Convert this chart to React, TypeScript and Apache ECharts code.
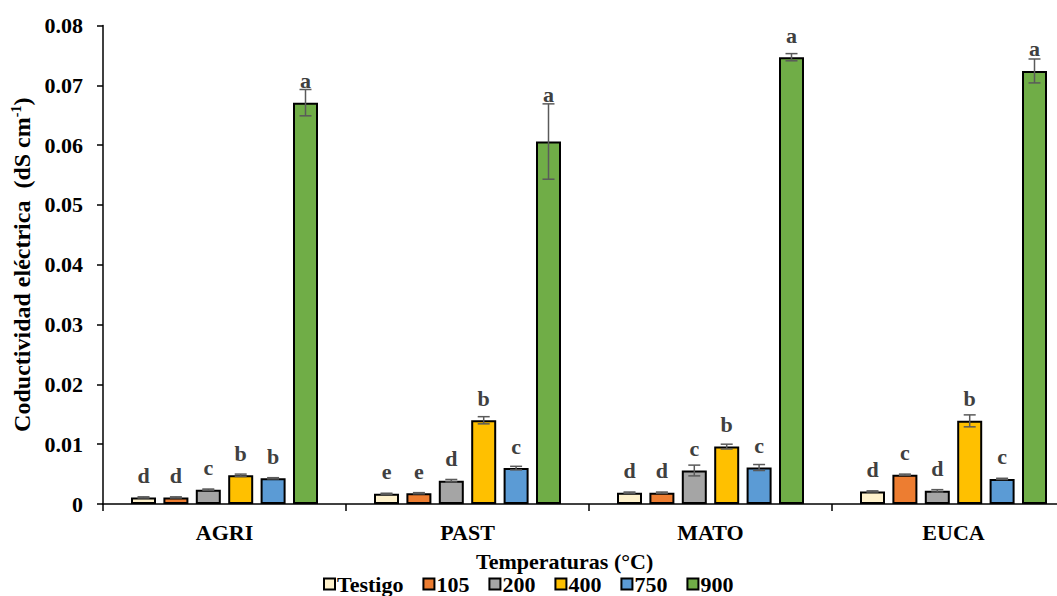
import React, { useEffect, useRef } from "react";
import * as echarts from "echarts";

const categories = ["AGRI", "PAST", "MATO", "EUCA"];
const seriesNames = ["Testigo", "105", "200", "400", "750", "900"];
const seriesColors = ["#FFF2CC", "#ED7D31", "#A5A5A5", "#FFC000", "#5B9BD5", "#70AD47"];

const valTestigo = [0.0011, 0.0017, 0.0019, 0.0021];
const val105 = [0.0011, 0.0018, 0.0019, 0.0049];
const val200 = [0.0024, 0.0039, 0.0056, 0.0022];
const val400 = [0.0048, 0.014, 0.0096, 0.0139];
const val750 = [0.0043, 0.006, 0.0061, 0.0042];
const val900 = [0.0671, 0.0606, 0.0747, 0.0724];

const errTestigo = [0.0001, 0.0001, 0.0001, 0.0001];
const err105 = [0.0001, 0.0001, 0.0001, 0.0001];
const err200 = [0.0001, 0.0002, 0.0009, 0.0002];
const err400 = [0.0002, 0.0006, 0.0004, 0.001];
const err750 = [0.0001, 0.0003, 0.0005, 0.0001];
const err900 = [0.0022, 0.0063, 0.0006, 0.002];

const letTestigo = ["d", "e", "d", "d"];
const let105 = ["d", "e", "d", "c"];
const let200 = ["c", "d", "c", "d"];
const let400 = ["b", "b", "b", "b"];
const let750 = ["b", "c", "c", "c"];
const let900 = ["a", "a", "a", "a"];

const yTicks = [0, 0.01, 0.02, 0.03, 0.04, 0.05, 0.06, 0.07, 0.08];

const allValues = [valTestigo, val105, val200, val400, val750, val900];
const allErrors = [errTestigo, err105, err200, err400, err750, err900];
const allLetters = [letTestigo, let105, let200, let400, let750, let900];

const FONT = '"Liberation Serif", "Times New Roman", serif';
const BAR_W = 25;
const SLOT = 32.4;

export default function App() {
  const ref = useRef<HTMLDivElement>(null);
  useEffect(() => {
    if (!ref.current) return;
    const chart = echarts.init(ref.current, null, { renderer: "svg" });

    const barSeries = seriesNames.map((name, i) => ({
      name,
      type: "bar",
      data: allValues[i],
      barWidth: BAR_W,
      barGap: "29.6%",
      itemStyle: { color: seriesColors[i], borderColor: "#000", borderWidth: 2 },
      z: 2,
    }));

    const errData: any[] = [];
    allValues.forEach((vals, si) => {
      vals.forEach((v, ci) => {
        errData.push([ci, v, allErrors[si][ci], si, allLetters[si][ci]]);
      });
    });

    const errSeries = {
      type: "custom",
      name: "err",
      z: 5,
      silent: true,
      data: errData,
      renderItem: (params: any, api: any) => {
        const ci = api.value(0);
        const v = api.value(1);
        const e = api.value(2);
        const si = api.value(3);
        const letter = errData[params.dataIndex][4];
        const base = api.coord([ci, v]);
        const x = base[0] + (si - 2.5) * SLOT;
        const yTop = api.coord([ci, v + e])[1];
        const yBot = api.coord([ci, v - e])[1];
        const barTop = base[1];
        const labelBottom = Math.min(yTop - 2, barTop - 15);
        const c = "#5a5a5a";
        return {
          type: "group",
          children: [
            { type: "line", shape: { x1: x, y1: yTop, x2: x, y2: yBot }, style: { stroke: c, lineWidth: 1.5 } },
            { type: "line", shape: { x1: x - 6, y1: yTop, x2: x + 6, y2: yTop }, style: { stroke: c, lineWidth: 1.5 } },
            { type: "line", shape: { x1: x - 6, y1: yBot, x2: x + 6, y2: yBot }, style: { stroke: c, lineWidth: 1.5 } },
            {
              type: "text",
              x,
              y: labelBottom + 4,
              style: {
                text: letter,
                fill: "#404040",
                font: `bold 22px ${FONT}`,
                align: "center",
                verticalAlign: "bottom",
              },
            },
          ],
        };
      },
    };

    chart.setOption({
      animation: false,
      textStyle: { fontFamily: FONT },
      grid: { left: 103, right: 0, top: 25.5, bottom: 92, containLabel: false, outerBoundsMode: "none" },
      legend: {
        data: seriesNames,
        left: 318,
        top: 568,
        icon: "rect",
        itemWidth: 11,
        itemHeight: 11,
        itemGap: 19,
        textStyle: { fontFamily: FONT, fontWeight: "bold", fontSize: 22, color: "#000", padding: [0, 0, 0, -3] },
      },
      xAxis: {
        type: "category",
        data: categories,
        axisLine: { lineStyle: { color: "#000", width: 1.5 } },
        axisTick: { show: true, length: 7, lineStyle: { color: "#000", width: 1.5 } },
        axisLabel: { color: "#000", fontWeight: "bold", fontSize: 22, fontFamily: FONT, margin: 17 },
      },
      yAxis: {
        type: "value",
        min: 0,
        max: 0.08,
        interval: 0.01,
        splitLine: { show: false },
        axisLine: { show: true, lineStyle: { color: "#000", width: 1.5 } },
        axisTick: { show: true, length: 6, lineStyle: { color: "#000", width: 1.5 } },
        axisLabel: {
          color: "#000",
          fontWeight: "bold",
          fontSize: 22,
          fontFamily: FONT,
          margin: 20,
          formatter: (val: number) => {
            const t = yTicks.find((k) => Math.abs(k - val) < 1e-9);
            const v = t === undefined ? val : t;
            return v === 0 ? "0" : v.toFixed(2);
          },
        },
        name: "Coductividad eléctrica  (dS cm{sup|-1})",
        nameLocation: "middle",
        nameGap: 68,
        nameRotate: 90,
        nameTextStyle: {
          color: "#000",
          fontWeight: "bold",
          fontSize: 24,
          fontFamily: FONT,
          rich: {
            sup: { fontSize: 14, fontWeight: "bold", fontFamily: FONT, color: "#000", padding: [0, 0, 10, 0] },
          },
        },
      },
      graphic: [
        {
          type: "text",
          left: 476,
          top: 550,
          style: { text: "Temperaturas (°C)", fill: "#000", font: `bold 22px ${FONT}` },
        },
      ],
      series: [...barSeries, errSeries],
    });
    return () => chart.dispose();
  }, []);
  return (
    <div style={{ position: "absolute", left: 0, top: 0, width: 1057, height: 596, overflow: "hidden" }}>
      <div ref={ref} style={{ width: 1075, height: 596 }} />
    </div>
  );
}
